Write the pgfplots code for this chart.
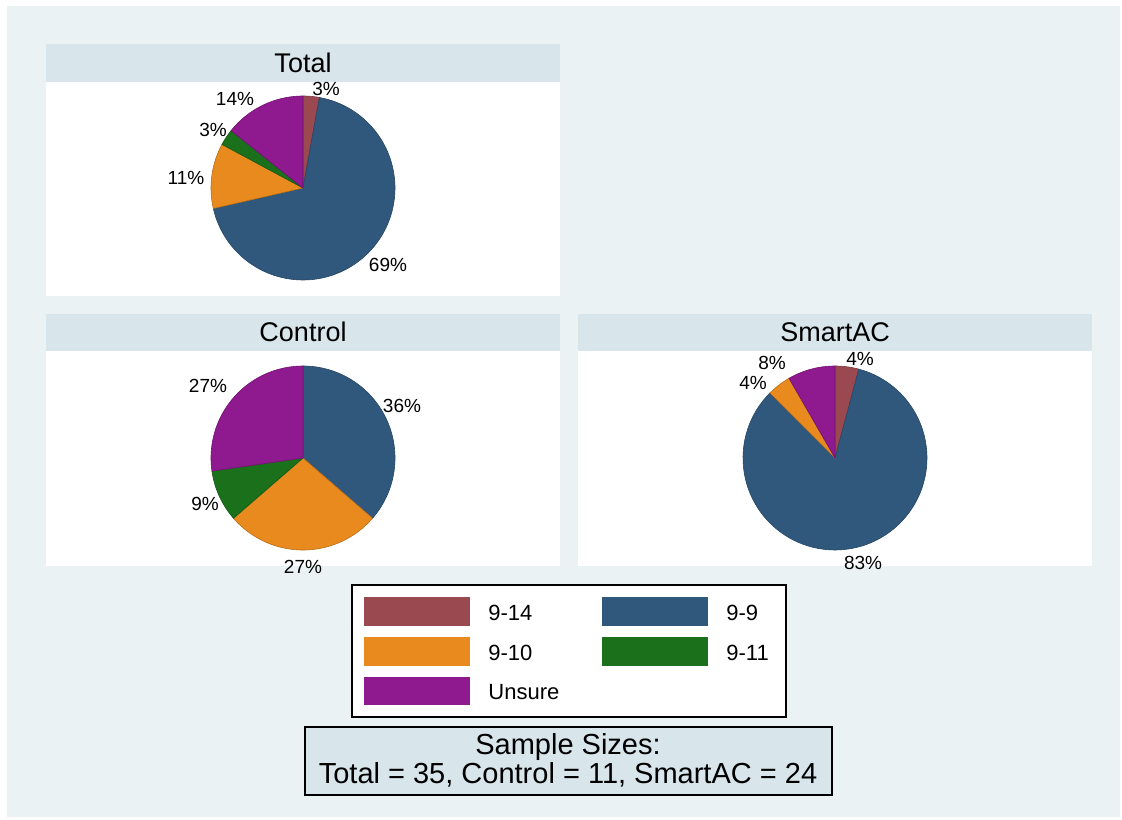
\documentclass[border=0pt]{standalone}
\usepackage{pgfplots}
\pgfplotsset{compat=1.18}
\usepackage{fontspec}
\setmainfont{Liberation Sans}
\definecolor{bgout}{RGB}{234,242,243}
\definecolor{band}{RGB}{216,229,235}
\definecolor{cA}{RGB}{155,73,80}   % 9-14
\definecolor{cB}{RGB}{48,88,125}   % 9-9
\definecolor{cC}{RGB}{232,138,30}  % 9-10
\definecolor{cD}{RGB}{27,112,27}   % 9-11
\definecolor{cE}{RGB}{143,25,143}  % Unsure

\newcommand\slice[3]{%
  \edef\doslice{\noexpand\addplot[draw=#3!80!black, line width=0.3pt, fill=#3, domain=#1:#2, samples=90]
    ({sin(x)},{cos(x)}) -- (axis cs:0,0) -- cycle;}\doslice}

% #1,#2 centre in pixels, #3..#7 counts: 9-14, 9-9, 9-10, 9-11, Unsure
\newcommand\drawpie[7]{%
  \pgfmathsetmacro\tot{#3+#4+#5+#6+#7}%
  \pgfmathsetmacro\aA{0}%
  \pgfmathsetmacro\aB{360*(#3)/\tot}%
  \pgfmathsetmacro\aC{360*(#3+#4)/\tot}%
  \pgfmathsetmacro\aD{360*(#3+#4+#5)/\tot}%
  \pgfmathsetmacro\aE{360*(#3+#4+#5+#6)/\tot}%
  \pgfmathsetmacro\aF{360}%
  \pgfmathsetmacro\cx{0.5*#1}%
  \pgfmathsetmacro\cy{-0.5*#2}%
  \begin{axis}[at={(\cx pt,\cy pt)}, anchor=center, scale only axis, width=119.6pt, height=119.6pt,
      xmin=-1.3, xmax=1.3, ymin=-1.3, ymax=1.3, hide axis, clip=false]
    \ifnum#3>0 \slice{\aA}{\aB}{cA}\fi
    \ifnum#4>0 \slice{\aB}{\aC}{cB}\fi
    \ifnum#5>0 \slice{\aC}{\aD}{cC}\fi
    \ifnum#6>0 \slice{\aD}{\aE}{cD}\fi
    \ifnum#7>0 \slice{\aE}{\aF}{cE}\fi
  \end{axis}}

\begin{document}
\begin{tikzpicture}[x=0.5pt, y=-0.5pt]
  \fill[white] (0,0) rectangle (1122,819);
  \fill[bgout] (7,6) rectangle (1120,817);
  % panels
  \fill[white] (46,82) rectangle (560,296);
  \fill[band] (46,44) rectangle (560,82);
  \fill[white] (46,351) rectangle (560,566);
  \fill[band] (46,314) rectangle (560,351);
  \fill[white] (578,351) rectangle (1092,566);
  \fill[band] (578,314) rectangle (1092,351);
  \node[font=\fontsize{13.5}{16}\selectfont] at (303,63) {Total};
  \node[font=\fontsize{13.5}{16}\selectfont] at (303,332) {Control};
  \node[font=\fontsize{13.5}{16}\selectfont] at (835,332) {SmartAC};

  \drawpie{303}{188}{1}{24}{4}{1}{5}
  \drawpie{303}{458}{0}{4}{3}{1}{3}
  \drawpie{835}{458}{1}{20}{1}{0}{2}

  \begin{scope}[every node/.style={font=\fontsize{9.5}{11}\selectfont, inner sep=0pt}]
    \node at (326,89) {3\%};
    \node at (388,265) {69\%};
    \node at (186,178) {11\%};
    \node at (213,130) {3\%};
    \node at (235,99) {14\%};
    \node at (402,406) {36\%};
    \node at (303,567) {27\%};
    \node at (205,504) {9\%};
    \node at (208,386) {27\%};
    \node at (860,359) {4\%};
    \node at (863,563) {83\%};
    \node at (753,383) {4\%};
    \node at (772,363) {8\%};
  \end{scope}

  % legend
  \draw[fill=white, line width=0.6pt] (352,585) rectangle (786,717);
  \begin{scope}[every node/.style={font=\fontsize{11}{13}\selectfont, anchor=west, inner sep=0pt}]
    \fill[cA] (364,597) rectangle (470,626); \node at (488,613) {9-14};
    \fill[cB] (602,597) rectangle (708,626); \node at (726,613) {9-9};
    \fill[cC] (364,637) rectangle (470,666); \node at (488,653) {9-10};
    \fill[cD] (602,637) rectangle (708,666); \node at (726,653) {9-11};
    \fill[cE] (364,677) rectangle (470,705); \node at (488,692) {Unsure};
  \end{scope}

  % sample sizes
  \draw[fill=band, line width=0.6pt] (305,727) rectangle (832,795);
  \node[font=\fontsize{14.5}{16}\selectfont, align=center, inner sep=0pt] at (568,760)
    {Sample Sizes:\\[-1.5pt]Total = 35, Control = 11, SmartAC = 24};
\end{tikzpicture}
\end{document}
